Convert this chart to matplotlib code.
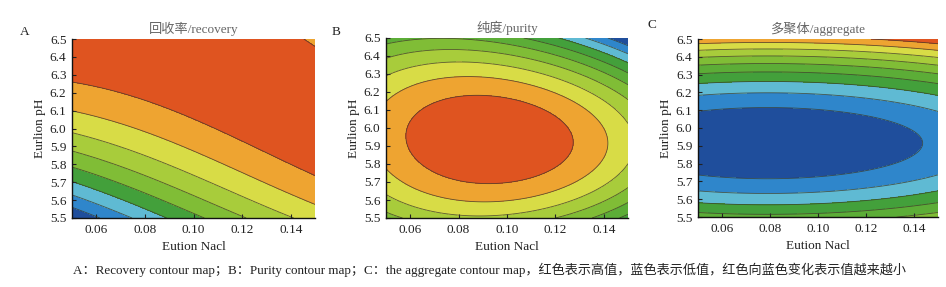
import numpy as np
import matplotlib
matplotlib.use("Agg")
import matplotlib.pyplot as plt

plt.rcParams['font.family'] = ['Liberation Serif', 'Noto Sans CJK SC', 'DejaVu Sans']

# fitted response surfaces, coded units A = (NaCl - 0.10)/0.05, B = (pH - 6.0)/0.5
# recovery: peak, curvature, ridge slope, ridge bend, ridge offset
recovery_params = [92.29, 3.571, 0.58, 0.11, 0.907]
# purity: peak, A0, B0, pAA, pBB, pAB, pABB
purity_params = [96.0, -0.144, -0.13, 2.1, 4.2, 0.4, 0.95]
# aggregate: minimum, A0, B0, pAA, pBB
aggregate_params = [1.0, -0.421, -0.17, 0.0598, 0.625]

recovery_levels = [65, 72.5, 75, 77.5, 80, 82.5, 85, 87.5, 90, 95]
purity_levels = [86, 87, 88, 89, 90, 91, 92, 93, 94, 95, 96.5]
aggregate_levels = [0.95, 1.1, 1.2, 1.3, 1.4, 1.5, 1.6, 1.7, 1.8, 1.9, 2.05]

titles = ['回收率/recovery', '纯度/purity', '多聚体/aggregate']
letters = ['A', 'B', 'C']
xticks = [0.06, 0.08, 0.10, 0.12, 0.14]
yticks = [5.5, 5.6, 5.7, 5.8, 5.9, 6.0, 6.1, 6.2, 6.3, 6.4, 6.5]
caption = ('A：Recovery contour map；B：Purity contour map；C：the aggregate contour map，'
           '红色表示高值，蓝色表示低值，红色向蓝色变化表示值越来越小')

palette = ['#1f4e9c', '#2f86cb', '#5fbad3', '#43a03b', '#5cad37', '#80bd36',
           '#a8cc3b', '#d8dc46', '#eea431', '#df5420']
recovery_colors = [palette[k] for k in [0, 1, 2, 3, 5, 6, 7, 8, 9]]

nacl = np.linspace(0.05, 0.15, 300)
ph = np.linspace(5.5, 6.5, 300)
X, Y = np.meshgrid(nacl, ph)
A = (X - 0.10) / 0.05
B = (Y - 6.0) / 0.5


def recovery_surface(c):
    s = B + c[2] * A + c[3] * A ** 2 * (1 + B)
    return c[0] - c[1] * (s - c[4]) ** 2


def purity_surface(c):
    da, db = A - c[1], B - c[2]
    return c[0] - c[3] * da ** 2 - c[4] * db ** 2 - c[5] * da * db - c[6] * da * db ** 2


def aggregate_surface(c):
    da, db = A - c[1], B - c[2]
    return c[0] + c[3] * da ** 2 + c[4] * db ** 2


surfaces = [recovery_surface(recovery_params), purity_surface(purity_params),
            aggregate_surface(aggregate_params)]
all_levels = [recovery_levels, purity_levels, aggregate_levels]
all_colors = [recovery_colors, palette, palette]

W, H = 946, 287
fig = plt.figure(figsize=(W / 100, H / 100), dpi=100)

boxes = [(72, 39, 243, 179), (386, 38, 242, 180), (698, 39, 240, 178)]
letter_pos = [(20, 35), (332, 35), (647, 28)]

for i, (Z, lev) in enumerate(zip(surfaces, all_levels)):
    l, t, w, h = boxes[i]
    ax = fig.add_axes([l / W, 1 - (t + h) / H, w / W, h / H])
    ax.contourf(X, Y, Z, levels=lev, colors=all_colors[i])
    ax.contour(X, Y, Z, levels=lev[1:-1], colors='#3b3a2c', linewidths=0.6, alpha=0.8)
    ax.set_xlim(0.05, 0.15)
    ax.set_ylim(5.5, 6.5)
    ax.set_xticks(xticks)
    ax.set_xticklabels(['%.2f' % v for v in xticks])
    ax.set_yticks(yticks)
    ax.set_yticklabels(['%.1f' % v for v in yticks])
    ax.tick_params(direction='in', length=3, width=0.8, labelsize=9.5, pad=4,
                   colors='#222222')
    for s in ['top', 'right']:
        ax.spines[s].set_visible(False)
    for s in ['left', 'bottom']:
        ax.spines[s].set_linewidth(1.0)
        ax.spines[s].set_color('#111111')
    ax.set_xlabel('Eution Nacl', fontsize=9.5, labelpad=4, color='#222222')
    ax.set_ylabel('Eurlion pH', fontsize=9.5, labelpad=3, color='#222222')
    ax.set_title(titles[i], fontsize=9.5, color='#666666', pad=4)
    fig.text(letter_pos[i][0] / W, 1 - letter_pos[i][1] / H, letters[i],
             fontsize=9.5, ha='left', va='baseline', color='#222222')

fig.text(489 / W, 1 - 274 / H, caption, fontsize=9.45, ha='center', va='baseline',
         color='#222222')

fig.savefig('out.png', dpi=100)
